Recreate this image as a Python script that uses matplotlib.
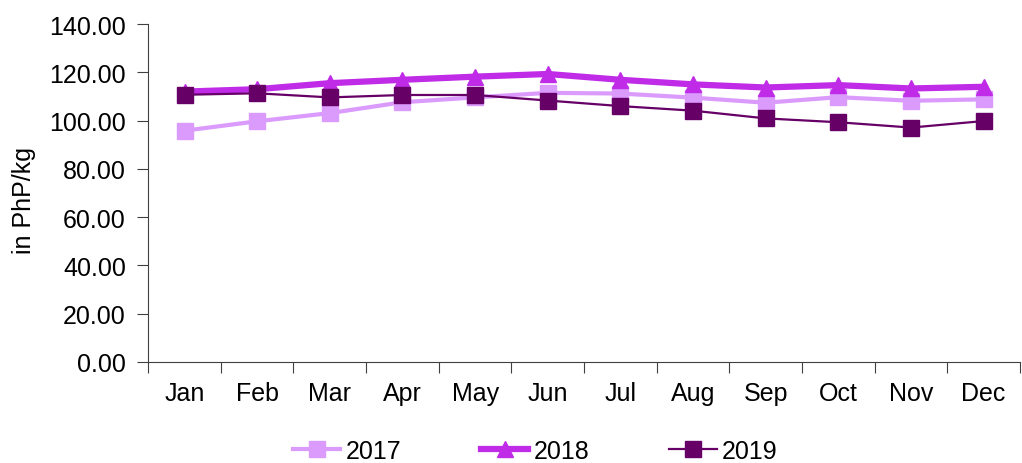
import matplotlib.pyplot as plt
import numpy as np

months = ["Jan", "Feb", "Mar", "Apr", "May", "Jun",
          "Jul", "Aug", "Sep", "Oct", "Nov", "Dec"]
y2017 = [95.8, 99.7, 103.1, 107.6, 109.6, 111.5, 111.2, 109.5, 107.4, 109.7, 108.2, 108.8]
y2018 = [112.0, 113.0, 115.5, 116.9, 118.2, 119.3, 116.9, 115.0, 113.7, 114.7, 113.3, 114.0]
y2019 = [110.7, 111.3, 109.6, 110.6, 110.6, 108.3, 106.0, 104.1, 100.9, 99.3, 97.1, 99.8]

plt.rcParams["font.family"] = ["Liberation Sans", "DejaVu Sans"]
FS = 18

fig = plt.figure(figsize=(10.22, 4.64), dpi=100)
ax = fig.add_axes([0.145, 0.218, 0.853, 0.728])

x = np.arange(len(months))
ax.plot(x, y2017, color="#DA9BFC", lw=3.0, marker="s", ms=11, label="2017")
ax.plot(x, y2018, color="#C02BE8", lw=4.5, marker="^", ms=11, label="2018")
ax.plot(x, y2019, color="#660066", lw=1.6, marker="s", ms=11, label="2019")

ax.set_xlim(-0.5, len(months) - 0.5)
ax.set_ylim(0, 140)
ax.set_yticks(np.arange(0, 141, 20))
ax.set_yticklabels(["%.2f" % v for v in np.arange(0, 141, 20)])
ax.set_xticks(np.arange(-0.5, len(months), 1))
ax.set_xticklabels([])
ax.set_xticks(x, minor=True)
ax.set_xticklabels(months, minor=True)
ax.tick_params(axis="x", which="major", length=8, color="#404040")
ax.tick_params(axis="x", which="minor", length=0, pad=14, labelsize=FS)
ax.tick_params(axis="y", length=8, color="#404040", labelsize=FS, pad=8)

for s in ["top", "right"]:
    ax.spines[s].set_visible(False)
for s in ["left", "bottom"]:
    ax.spines[s].set_color("#404040")

ax.set_ylabel("in PhP/kg", fontsize=FS)
ax.yaxis.set_label_coords(-0.129, 0.48)

fig.legend(*ax.get_legend_handles_labels(), loc="center",
           bbox_to_anchor=(0.5235, 0.026), ncol=3, frameon=False,
           fontsize=FS, handlelength=1.9, columnspacing=3.2, handletextpad=0.2,
           borderpad=0)

fig.savefig("out.png", dpi=100)
